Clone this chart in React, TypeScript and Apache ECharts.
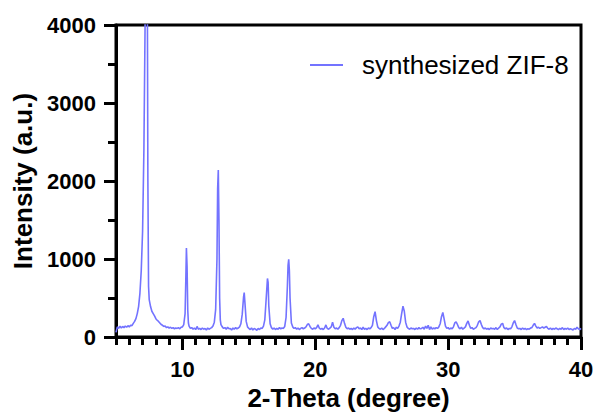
import React, { useEffect, useRef } from "react";
import * as echarts from "echarts";

// 2-Theta (degree) vs Intensity (a.u.)
const lowAngle: [number, number][] = [
  [5.0, 60], [5.1, 130], [5.2, 110], [5.3, 140], [5.4, 115], [5.5, 135], [5.6, 120], [5.7, 140],
  [5.8, 125], [5.9, 145], [6.0, 130], [6.1, 150], [6.2, 145], [6.3, 175], [6.4, 200], [6.5, 235],
  [6.6, 300], [6.7, 390], [6.8, 560], [6.9, 850], [7.0, 1350], [7.1, 2400], [7.2, 4200], [7.25, 5200],
  [7.3, 5600], [7.35, 5000], [7.4, 2000], [7.45, 650], [7.5, 480], [7.6, 390], [7.7, 330], [7.8, 300],
  [7.9, 270], [8.0, 235], [8.1, 215], [8.2, 200], [8.3, 180], [8.4, 160], [8.5, 150], [8.6, 135],
  [8.7, 140], [8.8, 120], [8.9, 130], [9.0, 115], [9.1, 125], [9.2, 110], [9.3, 120], [9.4, 105],
  [9.5, 115], [9.6, 110], [9.7, 120], [9.8, 105], [9.9, 125], [10.0, 130], [10.1, 160], [10.2, 300],
  [10.25, 700], [10.3, 1140], [10.35, 900], [10.4, 350], [10.45, 180], [10.5, 140], [10.6, 110],
  [10.7, 120], [10.8, 100], [10.9, 115], [11.0, 95], [11.1, 135], [11.2, 100], [11.3, 110], [11.4, 95],
  [11.5, 115], [11.6, 100], [11.7, 110], [11.8, 90], [11.9, 115], [12.0, 100], [12.1, 110], [12.2, 120],
  [12.3, 140], [12.4, 190], [12.5, 350], [12.6, 1000], [12.65, 1900], [12.7, 2140], [12.75, 1500],
  [12.8, 500], [12.85, 220], [12.9, 160], [13.0, 130], [13.1, 110], [13.2, 120], [13.3, 100],
  [13.4, 125], [13.5, 105], [13.6, 110], [13.7, 90], [13.8, 115], [13.9, 100], [14.0, 120],
  [14.1, 105], [14.2, 115], [14.3, 130], [14.4, 170], [14.5, 290], [14.6, 510], [14.65, 570],
  [14.7, 450], [14.8, 200], [14.9, 130], [15.0, 110],
];

const midAngle: [number, number][] = [
  [15.1, 95], [15.2, 115], [15.3, 90], [15.4, 110], [15.5, 100], [15.6, 85], [15.7, 110], [15.8, 95],
  [15.9, 115], [16.0, 110], [16.1, 140], [16.2, 220], [16.3, 480], [16.4, 750], [16.45, 700],
  [16.5, 400], [16.6, 170], [16.7, 120], [16.8, 100], [16.9, 115], [17.0, 95], [17.1, 110], [17.2, 100],
  [17.3, 120], [17.4, 105], [17.5, 115], [17.6, 110], [17.7, 135], [17.8, 250], [17.9, 650],
  [17.95, 920], [18.0, 995], [18.05, 850], [18.1, 500], [18.2, 180], [18.3, 130], [18.4, 110],
  [18.5, 120], [18.6, 100], [18.7, 115], [18.8, 95], [18.9, 110], [19.0, 120], [19.1, 105], [19.2, 115],
  [19.3, 130], [19.4, 160], [19.5, 170], [19.6, 135], [19.7, 110], [19.8, 100], [19.9, 115], [20.0, 105],
  [20.1, 120], [20.2, 155], [20.3, 115], [20.4, 100], [20.5, 110], [20.6, 95], [20.7, 115], [20.8, 155],
  [20.9, 110], [21.0, 100], [21.1, 115], [21.2, 130], [21.3, 190], [21.4, 125], [21.5, 105], [21.6, 115],
  [21.7, 100], [21.8, 120], [21.9, 150], [22.0, 210], [22.1, 240], [22.2, 175], [22.3, 125], [22.4, 105],
  [22.5, 115], [22.6, 100], [22.7, 110], [22.8, 95], [22.9, 115], [23.0, 100], [23.1, 120], [23.2, 130],
  [23.3, 105], [23.4, 115], [23.5, 95], [23.6, 125], [23.7, 100], [23.8, 110], [23.9, 95], [24.0, 115],
  [24.1, 105], [24.2, 120], [24.3, 150], [24.4, 260], [24.5, 325], [24.6, 210], [24.7, 130], [24.8, 110],
  [24.9, 100], [25.0, 115], [25.1, 95], [25.2, 110], [25.3, 130], [25.4, 150], [25.5, 185], [25.6, 195],
  [25.7, 150], [25.8, 110], [25.9, 120], [26.0, 95], [26.1, 125], [26.2, 110], [26.3, 140], [26.4, 190],
  [26.5, 300], [26.6, 395], [26.7, 330], [26.8, 190], [26.9, 130], [27.0, 110],
];

const highAngle: [number, number][] = [
  [27.1, 100], [27.2, 115], [27.3, 105], [27.4, 110], [27.5, 95], [27.6, 115], [27.7, 100], [27.8, 120],
  [27.9, 105], [28.0, 110], [28.1, 125], [28.2, 100], [28.3, 140], [28.4, 110], [28.5, 150], [28.6, 95],
  [28.7, 130], [28.8, 100], [28.9, 115], [29.0, 105], [29.1, 120], [29.2, 110], [29.3, 130], [29.4, 170],
  [29.5, 260], [29.6, 315], [29.7, 230], [29.8, 140], [29.9, 110], [30.0, 120], [30.1, 100], [30.2, 115],
  [30.3, 105], [30.4, 130], [30.5, 180], [30.6, 195], [30.7, 160], [30.8, 120], [30.9, 105], [31.0, 125],
  [31.1, 100], [31.2, 115], [31.3, 130], [31.4, 175], [31.5, 205], [31.6, 150], [31.7, 110], [31.8, 120],
  [31.9, 100], [32.0, 110], [32.1, 120], [32.2, 150], [32.3, 195], [32.4, 210], [32.5, 160], [32.6, 120],
  [32.7, 105], [32.8, 115], [32.9, 100], [33.0, 110], [33.1, 95], [33.2, 115], [33.3, 105], [33.4, 110],
  [33.5, 100], [33.6, 120], [33.7, 95], [33.8, 115], [33.9, 130], [34.0, 165], [34.1, 175], [34.2, 120],
  [34.3, 105], [34.4, 115], [34.5, 95], [34.6, 110], [34.7, 105], [34.8, 130], [34.9, 180], [35.0, 210],
  [35.1, 160], [35.2, 115], [35.3, 105], [35.4, 110], [35.5, 95], [35.6, 115], [35.7, 100], [35.8, 110],
  [35.9, 95], [36.0, 105], [36.1, 100], [36.2, 115], [36.3, 120], [36.4, 150], [36.5, 175], [36.6, 140],
  [36.7, 115], [36.8, 125], [36.9, 110], [37.0, 120], [37.1, 130], [37.2, 115], [37.3, 125], [37.4, 135],
  [37.5, 110], [37.6, 100], [37.7, 115], [37.8, 95], [37.9, 110], [38.0, 100], [38.1, 115], [38.2, 105],
  [38.3, 95], [38.4, 110], [38.5, 100], [38.6, 120], [38.7, 95], [38.8, 110], [38.9, 100], [39.0, 115],
  [39.1, 95], [39.2, 105], [39.3, 100], [39.4, 90], [39.5, 110], [39.6, 100], [39.7, 125], [39.8, 105],
  [39.9, 95], [40.0, 110],
];

const seriesName = "synthesized ZIF-8";
const xMajorTicks = [10, 20, 30, 40];
const xRange = [5, 40];
const yRange = [0, 4000];

const FONT = '"Liberation Sans", Arial, Helvetica, sans-serif';

export default function App() {
  const ref = useRef<HTMLDivElement>(null);
  useEffect(() => {
    if (!ref.current) return;
    const chart = echarts.init(ref.current, null, { renderer: "svg" });
    const data = [...lowAngle, ...midAngle, ...highAngle];
    chart.setOption({
      animation: false,
      backgroundColor: "#fff",
      textStyle: { fontFamily: FONT },
      grid: {
        left: 116, right: 17, top: 25, bottom: 75,
        outerBoundsMode: "none", containLabel: false,
        show: true, borderColor: "#000", borderWidth: 3, backgroundColor: "transparent",
      },
      legend: {
        data: [{ name: seriesName, icon: "rect" }],
        left: 310, top: 52, padding: 0,
        itemWidth: 33, itemHeight: 2,
        itemStyle: { color: "#7373ff" },
        textStyle: { fontSize: 26, color: "#000", fontFamily: FONT, padding: [0, 0, 0, 14] },
      },
      xAxis: [
        {
          type: "value", min: xRange[0], max: xRange[1], position: "bottom",
          axisLine: { show: true, lineStyle: { color: "#000", width: 3 } },
          axisTick: { show: true, customValues: xMajorTicks, length: 13, lineStyle: { color: "#000", width: 3 } },
          axisLabel: { customValues: xMajorTicks, fontSize: 22, fontWeight: "bold", color: "#000", margin: 21, fontFamily: FONT, formatter: (v: number) => String(v) },
          splitLine: { show: false },
          name: "2-Theta (degree)", nameLocation: "middle", nameGap: 37,
          nameTextStyle: { fontSize: 26, fontWeight: "bold", color: "#000", fontFamily: FONT },
        },
        {
          type: "value", min: xRange[0], max: xRange[1], interval: 1, position: "bottom",
          axisLine: { show: false },
          axisTick: { show: true, length: 8, lineStyle: { color: "#000", width: 3 } },
          axisLabel: { show: false },
          splitLine: { show: false },
        },
      ],
      yAxis: {
        type: "value", min: yRange[0], max: yRange[1], interval: 1000,
        axisLine: { show: true, lineStyle: { color: "#000", width: 3 } },
        axisTick: { show: true, length: 12, lineStyle: { color: "#000", width: 3 } },
        minorTick: { show: true, splitNumber: 2, length: 8, lineStyle: { color: "#000", width: 3 } },
        axisLabel: { fontSize: 22, fontWeight: "bold", color: "#000", margin: 20, fontFamily: FONT, formatter: (v: number) => String(v) },
        splitLine: { show: false },
        name: "Intensity (a.u.)", nameLocation: "middle", nameGap: 80,
        nameTextStyle: { fontSize: 26, fontWeight: "bold", color: "#000", fontFamily: FONT },
      },
      series: [
        {
          name: seriesName, type: "line", xAxisIndex: 0, data,
          symbol: "none", showSymbol: false, clip: true,
          lineStyle: { color: "#7373ff", width: 1.6 },
          itemStyle: { color: "#7373ff" },
          emphasis: { disabled: true },
        },
      ],
    });
    return () => chart.dispose();
  }, []);
  return <div ref={ref} style={{ position: "fixed", left: 0, top: 0, width: 598, height: 412 }} />;
}
